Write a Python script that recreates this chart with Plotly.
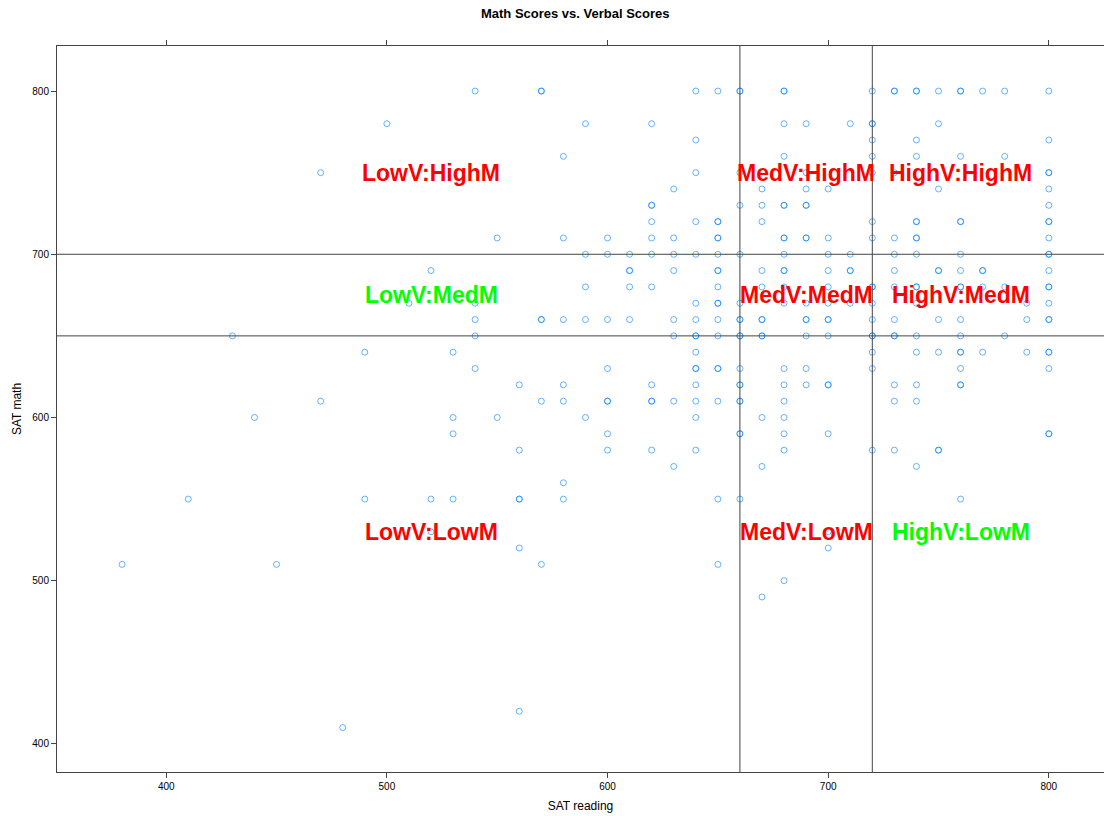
import plotly.graph_objects as go

# ---- data ----
math_levels = [800, 780, 770, 760, 750, 740, 730, 720, 710, 700, 690, 680, 670, 660,
               650, 640, 630, 620, 610, 600, 590, 580, 570, 560, 550, 530, 520, 510,
               500, 490, 420, 410]
reading_by_level = [
    [540, 570, 570, 640, 650, 660, 660, 680, 680, 720, 730, 730, 740, 740, 750, 760, 760, 770, 780, 800],
    [500, 590, 620, 680, 690, 710, 720, 720, 750],
    [640, 720, 740, 800],
    [580, 680, 720, 740, 760, 780],
    [470, 640, 660, 690, 720, 730, 800, 800],
    [630, 670, 690, 700, 750, 800],
    [620, 620, 660, 670, 680, 680, 690, 690, 800],
    [620, 640, 650, 650, 670, 720, 740, 740, 760, 760, 800, 800],
    [550, 580, 600, 620, 630, 650, 650, 680, 680, 690, 690, 700, 720, 730, 740, 740, 800],
    [590, 600, 610, 620, 630, 640, 650, 660, 680, 700, 710, 730, 740, 760, 800, 800],
    [520, 610, 610, 630, 650, 650, 670, 680, 680, 700, 710, 710, 730, 750, 750, 760, 770, 770, 800],
    [590, 610, 620, 650, 670, 680, 700, 720, 720, 730, 740, 740, 760, 760, 770, 780, 800, 800],
    [510, 540, 640, 650, 650, 660, 680, 690, 700, 710, 720, 740, 790, 800],
    [540, 570, 570, 580, 590, 600, 610, 630, 640, 650, 660, 660, 670, 670, 690, 690, 700, 700,
     720, 730, 750, 760, 790, 800, 800],
    [430, 540, 630, 640, 640, 650, 660, 660, 670, 670, 690, 700, 720, 720, 730, 730, 740, 760, 780],
    [490, 530, 640, 720, 740, 750, 760, 760, 770, 790, 800, 800],
    [540, 600, 640, 640, 650, 650, 660, 680, 690, 720, 760, 800],
    [560, 580, 620, 640, 660, 660, 680, 690, 700, 700, 730, 740, 760, 760],
    [470, 570, 580, 600, 600, 620, 620, 630, 640, 650, 660, 660, 680, 730, 740],
    [440, 530, 550, 590, 640, 670, 680],
    [530, 600, 660, 660, 680, 700, 800, 800],
    [560, 600, 620, 640, 680, 720, 730, 750, 750],
    [630, 670, 740],
    [580],
    [410, 490, 520, 530, 560, 560, 580, 650, 660, 760],
    [520, 700],
    [560, 700],
    [380, 450, 570, 650],
    [680],
    [670],
    [560],
    [480],
]
sat_reading = [r for row in reading_by_level for r in row]
sat_math = [m for m, row in zip(math_levels, reading_by_level) for _ in row]

verbal_cuts = [660, 720]
math_cuts = [650, 700]

label_text = ["LowV:HighM", "MedV:HighM", "HighV:HighM",
              "LowV:MedM", "MedV:MedM", "HighV:MedM",
              "LowV:LowM", "MedV:LowM", "HighV:LowM"]
label_x = [520, 690, 760, 520, 690, 760, 520, 690, 760]
label_y = [750, 750, 750, 675, 675, 675, 530, 530, 530]
label_color = ["#FF0000", "#FF0000", "#FF0000",
               "#00FF00", "#FF0000", "#FF0000",
               "#FF0000", "#FF0000", "#00FF00"]

x_ticks = [400, 500, 600, 700, 800]
y_ticks = [400, 500, 600, 700, 800]

FONT = "Liberation Sans, Arial, Helvetica, sans-serif"
AXIS_COL = "#444444"

fig = go.Figure()
fig.add_trace(go.Scatter(
    x=sat_reading, y=sat_math, mode="markers",
    marker=dict(symbol="circle-open", size=6, color="#0080ff",
                line=dict(width=1, color="#0080ff"), opacity=0.6),
    showlegend=False, hoverinfo="x+y",
))
# invisible trace to anchor the top axis
fig.add_trace(go.Scatter(x=[x_ticks[0]], y=[y_ticks[0]], xaxis="x2", mode="markers",
                         marker=dict(opacity=0), showlegend=False, hoverinfo="skip"))

for v in verbal_cuts:
    fig.add_shape(type="line", xref="x", yref="paper", x0=v, x1=v, y0=0, y1=1,
                  line=dict(color=AXIS_COL, width=1))
for h in math_cuts:
    fig.add_shape(type="line", xref="paper", yref="y", x0=0, x1=1, y0=h, y1=h,
                  line=dict(color=AXIS_COL, width=1))

for t, lx, ly, c in zip(label_text, label_x, label_y, label_color):
    fig.add_annotation(x=lx, y=ly, xref="x", yref="y", text=t, showarrow=False,
                       font=dict(family=FONT, size=23, color=c, weight="bold"))

xr = [350.5, 825]
yr = [382.8, 827.6]
fig.update_layout(
    width=1104, height=816,
    margin=dict(l=57, r=0, t=46, b=44),
    paper_bgcolor="white", plot_bgcolor="white",
    font=dict(family=FONT, size=10, color="black"),
    title=dict(text="<b>Math Scores vs. Verbal Scores</b>", x=0.495, xref="paper",
               y=0.983, yref="container", xanchor="center", yanchor="middle",
               font=dict(family=FONT, size=13, color="black")),
    xaxis=dict(range=xr, tickvals=x_ticks, ticks="outside", ticklen=5, tickcolor=AXIS_COL,
               showline=True, linecolor=AXIS_COL, linewidth=1, showgrid=False, zeroline=False,
               tickfont=dict(size=10, color="black"),
               title=dict(text="SAT reading", font=dict(size=12, color="black"), standoff=10)),
    xaxis2=dict(range=xr, overlaying="x", side="top", tickvals=x_ticks, ticks="outside",
                ticklen=5, tickcolor=AXIS_COL, showticklabels=False, showline=True,
                linecolor=AXIS_COL, linewidth=1, showgrid=False, zeroline=False),
    yaxis=dict(range=yr, tickvals=y_ticks, ticks="outside", ticklen=5, tickcolor=AXIS_COL,
               showline=True, linecolor=AXIS_COL, linewidth=1, showgrid=False, zeroline=False,
               tickfont=dict(size=10, color="black"),
               title=dict(text="SAT math", font=dict(size=12, color="black"), standoff=8)),
)

fig.write_html(
    "out.html",
    config={"displayModeBar": False},
    post_script="document.body.style.margin='0';document.body.style.overflow='hidden';",
)
